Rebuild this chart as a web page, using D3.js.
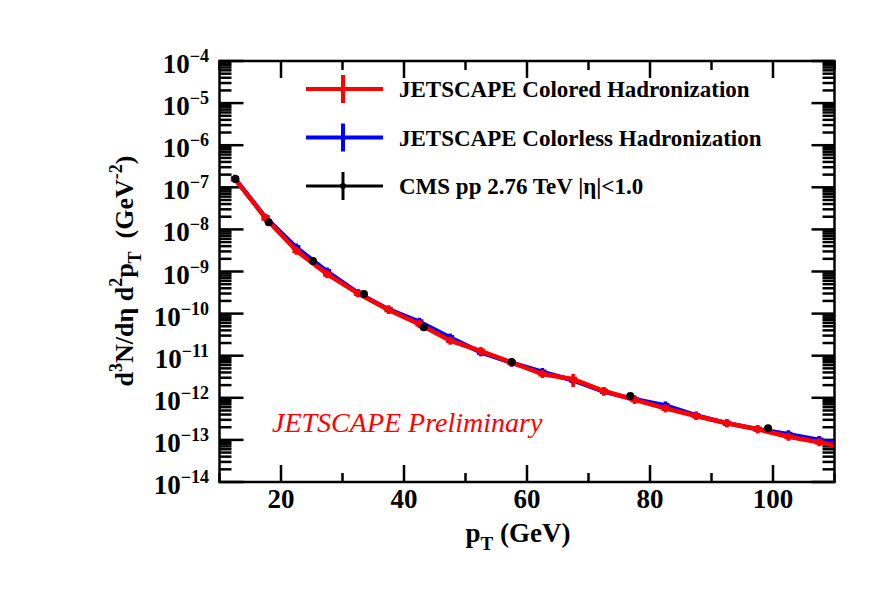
<!DOCTYPE html>
<html>
<head>
<meta charset="utf-8">
<script src="https://cdn.jsdelivr.net/npm/d3@7"></script>
<style>
  body { margin: 0; background: #fff; }
</style>
</head>
<body>
<div id="chart"></div>
<script>
// pT bin centres (GeV)
const ptBins = [12.5, 17.5, 22.5, 27.5, 32.5, 37.5, 42.5, 47.5, 52.5, 57.5, 62.5, 67.5, 72.5, 77.5, 82.5, 87.5, 92.5, 97.5, 102.5, 107.5, 112.5];
const colored = [1.58e-7, 1.84e-8, 3.12e-9, 8.6e-10, 3.03e-10, 1.22e-10, 5.6e-11, 2.27e-11, 1.29e-11, 6.9e-12, 3.67e-12, 2.75e-12, 1.45e-12, 8.9e-13, 5.6e-13, 3.7e-13, 2.48e-13, 1.79e-13, 1.19e-13, 8.8e-14, 6.2e-14];
const colorless = [1.6e-7, 1.9e-8, 3.7e-9, 1.0e-9, 3.1e-10, 1.26e-10, 6.4e-11, 2.7e-11, 1.2e-11, 6.8e-12, 4.1e-12, 2.6e-12, 1.4e-12, 9.2e-13, 6.6e-13, 3.8e-13, 2.5e-13, 1.8e-13, 1.36e-13, 1.0e-13, 7.2e-14];
const coloredErr = [0, 0, 0, 0, 0, 0, 0, 0, 0, 0, 0, 0.35, 0, 0, 0, 0, 0, 0, 0, 0, 0]; // relative
// CMS pp 2.76 TeV
const cmsPt = [12.6, 18.0, 25.2, 33.5, 43.2, 57.5, 76.8, 99.2];
const cmsVal = [1.58e-7, 1.48e-8, 1.78e-9, 2.92e-10, 4.72e-11, 7.08e-12, 1.10e-12, 1.88e-13];
const xTicks = [20, 40, 60, 80, 100];
const xMinor = [10, 30, 50, 70, 90, 110];
const yExps = [-14, -13, -12, -11, -10, -9, -8, -7, -6, -5, -4];
const legendLabels = ['JETSCAPE Colored Hadronization', 'JETSCAPE Colorless Hadronization', 'CMS pp 2.76 TeV |η|<1.0'];

const W = 878, H = 603;
const L = 219.5, R = 834.5, T = 61, B = 482;
const FONT = "'Liberation Serif', Tinos, 'Times New Roman', Times, 'DejaVu Serif', serif";

const svg = d3.select('#chart').append('svg')
  .attr('width', W).attr('height', H)
  .attr('viewBox', `0 0 ${W} ${H}`)
  .attr('font-family', FONT)
  .style('font-family', FONT);
svg.append('rect').attr('width', W).attr('height', H).attr('fill', '#fff');

const x = d3.scaleLinear().domain([10, 110]).range([L, R]);
const y = d3.scaleLog().domain([1e-14, 1e-4]).range([B, T]);

svg.append('clipPath').attr('id', 'clip')
  .append('rect').attr('x', L).attr('y', T).attr('width', R - L).attr('height', B - T);

// Ticks
const gT = svg.append('g').attr('stroke', '#000').attr('stroke-width', 2.5);
xTicks.forEach((v) => {
  gT.append('line').attr('x1', x(v)).attr('x2', x(v)).attr('y1', B).attr('y2', B - 17);
  gT.append('line').attr('x1', x(v)).attr('x2', x(v)).attr('y1', T).attr('y2', T + 17);
});
xMinor.forEach((v) => {
  gT.append('line').attr('x1', x(v)).attr('x2', x(v)).attr('y1', B).attr('y2', B - 9);
  gT.append('line').attr('x1', x(v)).attr('x2', x(v)).attr('y1', T).attr('y2', T + 9);
});
yExps.forEach((e) => {
  const yy = y(Math.pow(10, e));
  gT.append('line').attr('x1', L).attr('x2', L + 24).attr('y1', yy).attr('y2', yy);
  gT.append('line').attr('x1', R).attr('x2', R - 23).attr('y1', yy).attr('y2', yy);
  if (e < -4) {
    for (let m = 2; m <= 9; m++) {
      const ym = y(m * Math.pow(10, e));
      gT.append('line').attr('x1', L).attr('x2', L + 12).attr('y1', ym).attr('y2', ym);
      gT.append('line').attr('x1', R).attr('x2', R - 12).attr('y1', ym).attr('y2', ym);
    }
  }
});

// Tick labels
xTicks.forEach((v) => {
  svg.append('text').attr('x', x(v)).attr('y', 508)
    .attr('text-anchor', 'middle').attr('font-size', 27).attr('font-weight', 'bold')
    .text(v);
});
yExps.forEach((e) => {
  const t = svg.append('text').attr('x', 209).attr('y', y(Math.pow(10, e)) + 12)
    .attr('text-anchor', 'end').attr('font-size', 27).attr('font-weight', 'bold');
  t.append('tspan').text('10');
  t.append('tspan').attr('dy', -11).attr('font-size', 18).text(`\u2212${-e}`);
});

// Curves
const plot = svg.append('g').attr('clip-path', 'url(#clip)');
const line = d3.line().x((d) => x(d[0])).y((d) => y(d[1]));
const drawSeries = (vals, color, errs) => {
  const pts = ptBins.map((p, i) => [p, vals[i]]);
  plot.append('path').datum(pts).attr('d', line)
    .attr('fill', 'none').attr('stroke', color).attr('stroke-width', 4.5);
  pts.forEach((d, i) => {
    const cx = x(d[0]), cy = y(d[1]);
    plot.append('line').attr('x1', cx - 4).attr('x2', cx + 4).attr('y1', cy).attr('y2', cy)
      .attr('stroke', color).attr('stroke-width', 5);
    const e = errs ? errs[i] : 0;
    plot.append('line').attr('x1', cx).attr('x2', cx)
      .attr('y1', e > 0 ? y(d[1] * (1 + e)) : cy - 4)
      .attr('y2', e > 0 ? y(d[1] * (1 - e)) : cy + 4)
      .attr('stroke', color).attr('stroke-width', 3.5);
  });
};
drawSeries(colorless, '#0000ff', null);
drawSeries(colored, '#ff0000', coloredErr);
cmsPt.forEach((p, i) => {
  plot.append('circle').attr('cx', x(p)).attr('cy', y(cmsVal[i])).attr('r', 4).attr('fill', '#000');
});

// Frame
svg.append('rect').attr('x', L).attr('y', T).attr('width', R - L).attr('height', B - T)
  .attr('fill', 'none').attr('stroke', '#000').attr('stroke-width', 2.5);

// Legend
const legColors = ['#ff0000', '#0000ff', '#000000'];
const legY = [89, 137.5, 186];
legendLabels.forEach((lab, i) => {
  const g = svg.append('g');
  g.append('line').attr('x1', 306).attr('x2', 383).attr('y1', legY[i]).attr('y2', legY[i])
    .attr('stroke', legColors[i]).attr('stroke-width', i < 2 ? 4 : 3);
  g.append('line').attr('x1', 343).attr('x2', 343).attr('y1', legY[i] - 14).attr('y2', legY[i] + 14)
    .attr('stroke', legColors[i]).attr('stroke-width', i < 2 ? 4 : 3);
  if (i === 2) g.append('circle').attr('cx', 343).attr('cy', legY[i]).attr('r', 3).attr('fill', '#000');
  g.append('text').attr('x', 399).attr('y', legY[i] + 8)
    .attr('font-size', 23).attr('font-weight', 'bold').text(lab);
});

// Preliminary
svg.append('text').attr('x', 272).attr('y', 432)
  .attr('font-size', 28).attr('font-style', 'italic').attr('fill', '#ff0000')
  .text('JETSCAPE Preliminary');

// Axis titles
const xt = svg.append('text').attr('x', 518).attr('y', 542).attr('text-anchor', 'middle')
  .attr('font-size', 27).attr('font-weight', 'bold');
xt.append('tspan').text('p');
xt.append('tspan').attr('dy', 8).attr('font-size', 19).text('T');
xt.append('tspan').attr('dy', -8).text(' (GeV)');

const yt = svg.append('text').attr('transform', 'translate(133,271) rotate(-90)')
  .attr('text-anchor', 'middle').attr('font-size', 26).attr('font-weight', 'bold');
yt.append('tspan').text('d');
yt.append('tspan').attr('dy', -11).attr('font-size', 18).text('3');
yt.append('tspan').attr('dy', 11).text('N/d\u03b7 d');
yt.append('tspan').attr('dy', -11).attr('font-size', 18).text('2');
yt.append('tspan').attr('dy', 11).text('p');
yt.append('tspan').attr('dy', 8).attr('font-size', 18).text('T');
yt.append('tspan').attr('dy', -8).text('\u00a0\u00a0(GeV');
yt.append('tspan').attr('dy', -11).attr('font-size', 18).text('-2');
yt.append('tspan').attr('dy', 11).text(')');
</script>
</body>
</html>
